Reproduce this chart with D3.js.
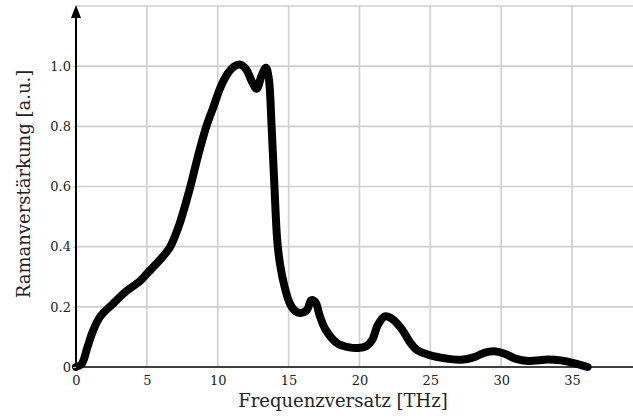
<!DOCTYPE html>
<html><head><meta charset="utf-8">
<script src="https://cdn.jsdelivr.net/npm/d3@7"></script>
<style>body{margin:0;background:#fff}svg{display:block}</style>
</head><body><svg id="c" width="633" height="418"></svg>
<script>
const freq = [0,0.4,0.8,1.2,1.7,2.6,3.5,4.5,5,6,6.65,7.3,8.07,8.6,9.2,9.7,10.2,10.7,11.2,11.6,12.0,12.4,12.75,13.1,13.4,13.6,13.8,14.0,14.2,14.4,14.7,15.1,15.5,15.9,16.3,16.6,16.9,17.2,17.6,18.4,19.2,19.9,20.5,20.9,21.3,21.8,22.3,23.0,23.6,24.1,25.3,26.3,27.2,28.1,28.8,29.5,30.2,31.0,31.9,33.3,34.2,35.2,36.1];
const gain = [0,0.01,0.065,0.12,0.167,0.21,0.25,0.285,0.31,0.36,0.4,0.475,0.6,0.7,0.8,0.865,0.93,0.975,1.0,1.005,0.99,0.95,0.925,0.97,0.995,0.96,0.8,0.6,0.42,0.34,0.27,0.21,0.185,0.18,0.19,0.222,0.215,0.17,0.125,0.08,0.066,0.063,0.07,0.09,0.14,0.168,0.16,0.125,0.08,0.055,0.035,0.027,0.024,0.033,0.047,0.052,0.045,0.028,0.02,0.025,0.022,0.012,0.0];
const xTicks = [0,5,10,15,20,25,30,35];
const yTicks = [0,0.2,0.4,0.6,0.8,1.0];
const yGrid = [0.2,0.4,0.6,0.8,1.0,1.2];
const xLabel = "Frequenzversatz [THz]";
const yLabel = "Ramanverstärkung [a.u.]";

const FONT = "'DejaVu Serif', 'Liberation Serif', serif";
const svg = d3.select("#c");
const x = d3.scaleLinear().domain([0,39.3]).range([76,633]);
const y = d3.scaleLinear().domain([0,1.2]).range([367,6]);

svg.append("g").selectAll("line").data(xTicks.slice(1)).join("line")
  .attr("x1",d=>x(d)).attr("x2",d=>x(d)).attr("y1",y(1.2)).attr("y2",y(0))
  .attr("stroke","#cfcfcf").attr("stroke-width",1.6);
svg.append("g").selectAll("line").data(yGrid).join("line")
  .attr("x1",x(0)).attr("x2",633).attr("y1",d=>y(d)).attr("y2",d=>y(d))
  .attr("stroke","#cfcfcf").attr("stroke-width",1.6);

const data = freq.map((f,i)=>[f,gain[i]]);
svg.append("path").datum(data)
  .attr("d", d3.line().x(d=>x(d[0])).y(d=>y(d[1])).curve(d3.curveCatmullRom.alpha(0.5)))
  .attr("fill","none").attr("stroke","#000").attr("stroke-width",8)
  .attr("stroke-linejoin","round").attr("stroke-linecap","round");

const xa = svg.append("g").attr("transform",`translate(0,${y(0)})`)
  .call(d3.axisBottom(x).tickValues(xTicks).tickSize(0).tickPadding(9).tickFormat(d3.format("d")));
xa.select(".domain").remove();
xa.selectAll("text").attr("font-size",13).attr("fill","#222");
svg.append("line").attr("x1",x(0)).attr("x2",633).attr("y1",y(0)).attr("y2",y(0)).attr("stroke","#000").attr("stroke-width",1.6);

const ya = svg.append("g").attr("transform",`translate(${x(0)},0)`)
  .call(d3.axisLeft(y).tickValues(yTicks).tickSize(3).tickPadding(2).tickFormat(d=>d===0?"0":d3.format(".1f")(d)));
ya.select(".domain").remove();
ya.selectAll("line").attr("stroke","#bbb");
ya.selectAll("text").attr("font-size",13).attr("fill","#222");
xa.attr("font-family",FONT); ya.attr("font-family",FONT);
svg.append("line").attr("x1",x(0)).attr("x2",x(0)).attr("y1",y(0)).attr("y2",14).attr("stroke","#000").attr("stroke-width",2);
svg.append("path").attr("d",`M${x(0)-5},${18} L${x(0)},${5} L${x(0)+5},${18} Z`).attr("fill","#000");

svg.append("text").attr("x",343).attr("y",407).attr("text-anchor","middle").attr("font-size",18).attr("font-family",FONT).attr("fill","#222").text(xLabel);
svg.append("text").attr("transform",`translate(30,184) rotate(-90)`).attr("text-anchor","middle").attr("font-size",18).attr("font-family",FONT).attr("fill","#222").text(yLabel);
</script></body></html>
